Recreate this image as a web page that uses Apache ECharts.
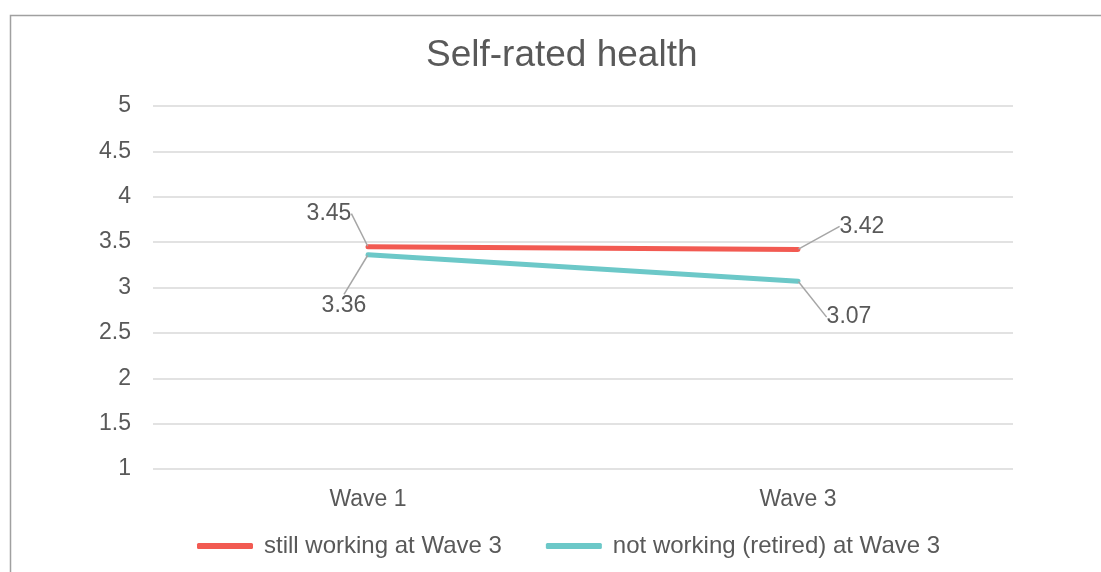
<!DOCTYPE html>
<html>
<head>
<meta charset="utf-8">
<script src="https://cdn.jsdelivr.net/npm/echarts@6/dist/echarts.min.js"></script>
<style>
  html, body { margin: 0; padding: 0; background: #fff; }
  #chart { width: 1101px; height: 572px; }
</style>
</head>
<body>
<div id="chart"></div>
<script>
// Self-rated health by work status, Wave 1 vs Wave 3
const categories = ['Wave 1', 'Wave 3'];
const stillWorking = [3.45, 3.42];
const retired = [3.36, 3.07];
const seriesNames = ['still working at Wave 3', 'not working (retired) at Wave 3'];

// label offsets (dx, dy) from each point, per series
const offsetsWorking = [[-39, -33], [64, -23]];
const offsetsRetired = [[-24, 51], [51, 36]];

const textColor = '#595959';
const font = '"Liberation Sans", Arial, Helvetica, sans-serif';

const chart = echarts.init(document.getElementById('chart'), null, { renderer: 'canvas' });

function makeSeries(name, data, color, offsets) {
  return {
    name: name,
    type: 'line',
    data: data,
    symbol: 'circle',
    symbolSize: 1,
    showSymbol: true,
    lineStyle: { color: color, width: 5, cap: 'round' },
    itemStyle: { color: color },
    emphasis: { disabled: true },
    label: {
      show: true,
      color: textColor,
      fontFamily: font,
      fontSize: 23,
      position: 'inside'
    },
    labelLine: {
      show: true,
      lineStyle: { color: '#a6a6a6', width: 1.5 }
    },
    labelLayout: function (params) {
      const o = offsets[params.dataIndex];
      return { dx: o[0], dy: o[1] };
    }
  };
}

chart.setOption({
  backgroundColor: '#fff',
  animation: false,
  graphic: [{
    type: 'rect',
    shape: { x: 10.5, y: 15.5, width: 1200, height: 700 },
    style: { fill: 'none', stroke: '#a0a0a0', lineWidth: 1.5 },
    silent: true
  }],
  title: {
    text: 'Self-rated health',
    left: 421,
    top: 32,
    textStyle: { color: textColor, fontFamily: font, fontSize: 37, fontWeight: 'normal' }
  },
  grid: { left: 153, right: 88, top: 106, bottom: 103, containLabel: false },
  legend: {
    bottom: 9,
    left: 192,
    itemWidth: 56,
    itemHeight: 6,
    itemGap: 44,
    icon: 'roundRect',
    textStyle: { color: textColor, fontFamily: font, fontSize: 24, padding: [0, 0, 0, 6] },
    data: seriesNames
  },
  xAxis: {
    type: 'category',
    data: categories,
    boundaryGap: true,
    axisLine: { show: false },
    axisTick: { show: false },
    axisLabel: { color: textColor, fontFamily: font, fontSize: 23, margin: 19 }
  },
  yAxis: {
    type: 'value',
    min: 1,
    max: 5,
    interval: 0.5,
    axisLine: { show: false },
    axisTick: { show: false },
    axisLabel: { color: textColor, fontFamily: font, fontSize: 23, margin: 22 },
    splitLine: { lineStyle: { color: '#d9d9d9', width: 1.5 } }
  },
  series: [
    makeSeries(seriesNames[0], stillWorking, '#f25a52', offsetsWorking),
    makeSeries(seriesNames[1], retired, '#6cc8c8', offsetsRetired)
  ]
});
</script>
</body>
</html>
